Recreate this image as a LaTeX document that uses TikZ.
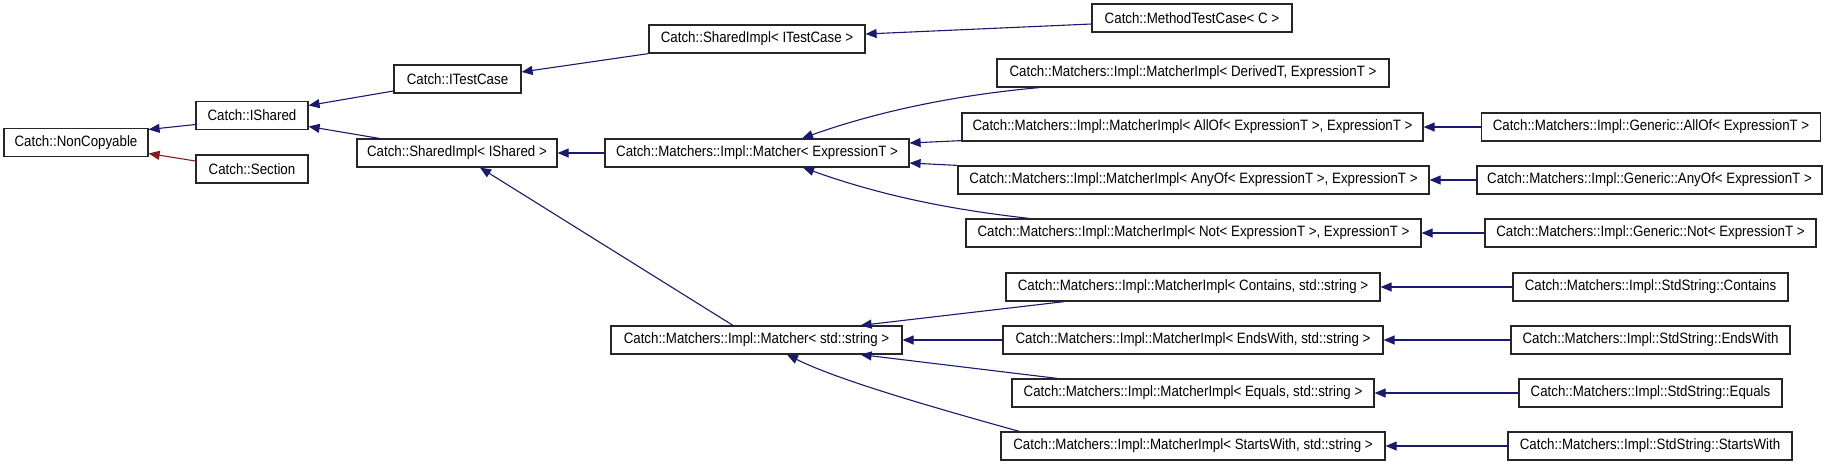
\documentclass[tikz,border=0pt]{standalone}
\usepackage{fontspec}
\setmainfont{Liberation Sans}[FakeStretch=0.887]
\usetikzlibrary{arrows.meta}
\definecolor{edgeblue}{HTML}{191970}
\definecolor{edgered}{HTML}{8B1A1A}
\tikzset{
  cls/.style={draw=black!85, line width=1.2pt, fill=white, inner sep=0pt, minimum height=28pt, font=\fontsize{15}{17}\selectfont, anchor=center},
  inh/.style={draw=edgeblue, line width=1.1pt, -{Triangle[length=11pt,width=9pt]}},
  inhr/.style={draw=edgered, line width=1.1pt, -{Triangle[length=11pt,width=9pt]}}
}
\begin{document}
\begin{tikzpicture}[x=1pt,y=-1pt]
\useasboundingbox (0,0) rectangle (1829,467);
% nodes
\node[cls, minimum width=144pt] (nc) at (76,142.5) {Catch::NonCopyable};
\node[cls, minimum width=112pt] (ish) at (252,115.5) {Catch::IShared};
\node[cls, minimum width=112pt] (sec) at (252,169) {Catch::Section};
\node[cls, minimum width=127pt] (itc) at (457.5,79) {Catch::ITestCase};
\node[cls, minimum width=200pt] (sii) at (457,153) {Catch::SharedImpl< IShared >};
\node[cls, minimum width=216pt] (sitc) at (757,39) {Catch::SharedImpl< ITestCase >};
\node[cls, minimum width=200pt] (mtc) at (1192,18) {Catch::MethodTestCase< C >};
\node[cls, minimum width=304pt] (mexp) at (757,153) {Catch::Matchers::Impl::Matcher< ExpressionT >};
\node[cls, minimum width=392pt] (mder) at (1193,73) {Catch::Matchers::Impl::MatcherImpl< DerivedT, ExpressionT >};
\node[cls, minimum width=461pt] (mall) at (1192.5,127) {Catch::Matchers::Impl::MatcherImpl< AllOf< ExpressionT >, ExpressionT >};
\node[cls, minimum width=339pt] (gall) at (1651,127) {Catch::Matchers::Impl::Generic::AllOf< ExpressionT >};
\node[cls, minimum width=471pt] (many) at (1193.5,180) {Catch::Matchers::Impl::MatcherImpl< AnyOf< ExpressionT >, ExpressionT >};
\node[cls, minimum width=345pt] (gany) at (1649.5,180) {Catch::Matchers::Impl::Generic::AnyOf< ExpressionT >};
\node[cls, minimum width=455pt] (mnot) at (1193.5,233) {Catch::Matchers::Impl::MatcherImpl< Not< ExpressionT >, ExpressionT >};
\node[cls, minimum width=331pt] (gnot) at (1650.5,233) {Catch::Matchers::Impl::Generic::Not< ExpressionT >};
\node[cls, minimum width=374pt] (mcon) at (1193,287) {Catch::Matchers::Impl::MatcherImpl< Contains, std::string >};
\node[cls, minimum width=275pt] (scon) at (1650.5,287) {Catch::Matchers::Impl::StdString::Contains};
\node[cls, minimum width=291pt] (mstr) at (756.5,340) {Catch::Matchers::Impl::Matcher< std::string >};
\node[cls, minimum width=380pt] (mends) at (1193,340) {Catch::Matchers::Impl::MatcherImpl< EndsWith, std::string >};
\node[cls, minimum width=279pt] (sends) at (1650.5,340) {Catch::Matchers::Impl::StdString::EndsWith};
\node[cls, minimum width=362pt] (meq) at (1193,393) {Catch::Matchers::Impl::MatcherImpl< Equals, std::string >};
\node[cls, minimum width=263pt] (seq) at (1650.5,393) {Catch::Matchers::Impl::StdString::Equals};
\node[cls, minimum width=384pt] (mst) at (1193,446) {Catch::Matchers::Impl::MatcherImpl< StartsWith, std::string >};
\node[cls, minimum width=284pt] (sst) at (1650,446) {Catch::Matchers::Impl::StdString::StartsWith};
% edges
\draw[inh] ([yshift=-9pt]ish.west) -- ([yshift=13pt]nc.east);
\draw[inhr] ([yshift=8pt]sec.west) -- ([yshift=-11pt]nc.east);
\draw[inh] ([yshift=-12pt]itc.west) -- ([yshift=10pt]ish.east);
\draw[inh] ([xshift=23pt]sii.north west) -- ([yshift=-11pt]ish.east);
\draw[inh] (sitc.south west) -- ([yshift=7pt]itc.east);
\draw[inh] ([yshift=-6pt]mtc.west) -- ([yshift=5pt]sitc.east);
\draw[inh] (mexp.west) -- (sii.east);
\draw[inh] ([xshift=-23.5pt]mstr.north) -- ([xshift=23pt]sii.south);
\draw[inh] ([xshift=43pt]mder.south west) .. controls +(-90,8) and +(70,-25) .. ([xshift=45pt]mexp.north);
\draw[inh] ([yshift=1pt]mall.south west) -- ([yshift=10pt]mexp.east);
\draw[inh] (many.north west) -- ([yshift=-10pt]mexp.east);
\draw[inh] ([xshift=64pt]mnot.north west) .. controls +(-90,-10) and +(70,25) .. ([xshift=46pt]mexp.south);
\draw[inh] (gall.west) -- (mall.east);
\draw[inh] (gany.west) -- (many.east);
\draw[inh] (gnot.west) -- (mnot.east);
\draw[inh] ([xshift=59pt]mcon.south west) -- ([xshift=-42pt]mstr.north east);
\draw[inh] (mends.west) -- (mstr.east);
\draw[inh] ([xshift=46pt]meq.north west) -- ([xshift=-42pt]mstr.south east);
\draw[inh] ([xshift=19pt]mst.north west) .. controls +(-90,-25) and +(50,25) .. ([xshift=30.5pt]mstr.south);
\draw[inh] (scon.west) -- (mcon.east);
\draw[inh] (sends.west) -- (mends.east);
\draw[inh] (seq.west) -- (meq.east);
\draw[inh] (sst.west) -- (mst.east);
\end{tikzpicture}
\end{document}
